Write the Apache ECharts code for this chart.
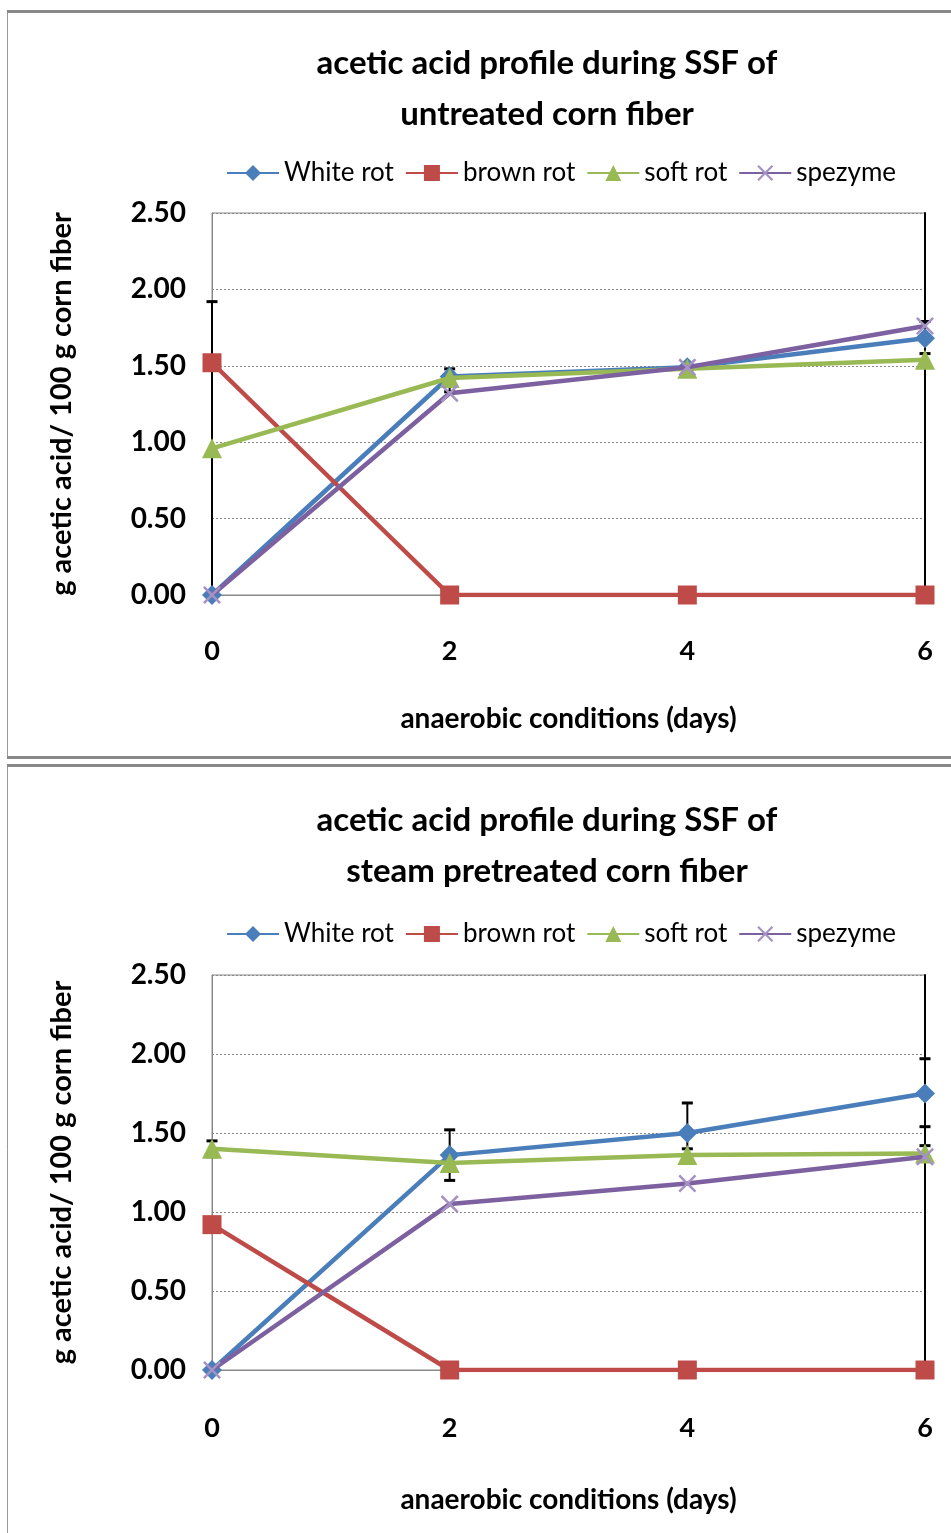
<!DOCTYPE html>
<html>
<head>
<meta charset="utf-8">
<script src="https://cdn.jsdelivr.net/npm/echarts@6/dist/echarts.min.js"></script>
<style>
  html, body { margin: 0; padding: 0; background: #fff; }
  #main { width: 951px; height: 1533px; }
</style>
</head>
<body>
<div id="main"></div>
<script>
// x values (days)
var days = [0, 2, 4, 6];
var seriesNames = ['White rot', 'brown rot', 'soft rot', 'spezyme'];

// untreated corn fiber
var topWhite = [0.00, 1.43, 1.49, 1.68];
var topBrown = [1.52, 0.00, 0.00, 0.00];
var topSoft = [0.96, 1.42, 1.48, 1.54];
var topSpez = [0.00, 1.32, 1.49, 1.76];
// error bars: [day, low, high]
var topErr = [[0, 0.00, 1.92], [2, 1.33, 1.48], [6, 1.58, 1.79]];

// steam pretreated corn fiber
var botWhite = [0.00, 1.36, 1.50, 1.75];
var botBrown = [0.92, 0.00, 0.00, 0.00];
var botSoft = [1.40, 1.31, 1.36, 1.37];
var botSpez = [0.00, 1.05, 1.18, 1.35];
var botErr = [[0, 1.35, 1.45], [2, 1.20, 1.52], [4, 1.32, 1.69], [4, 1.31, 1.40], [6, 1.54, 1.97], [6, 1.33, 1.42]];

var colors = ['#4a7ebb', '#be4b48', '#98b954', '#7d60a0'];
var crossPath = 'path://M0,1L1,0L5,4L9,0L10,1L6,5L10,9L9,10L5,6L1,10L0,9L4,5Z';
var symbols = ['diamond', 'rect', 'triangle', crossPath];
var symbolSizes = [20, 19, 20, 18];

var chartDom = document.getElementById('main');
var myChart = echarts.init(chartDom);

function pairs(vals) {
    return days.map(function (d, i) { return [d, vals[i]]; });
}

function makeLines(idx, sets) {
    return sets.map(function (vals, i) {
        return {
            name: seriesNames[i],
            type: 'line',
            xAxisIndex: idx,
            yAxisIndex: idx * 2,
            data: pairs(vals),
            symbol: symbols[i],
            symbolSize: symbolSizes[i],
            showAllSymbol: true,
            lineStyle: { width: 4.5, color: colors[i] },
            itemStyle: { color: i === 3 ? '#a593c4' : colors[i] },
            z: 3 + i
        };
    });
}

function makeErr(idx, err) {
    return {
        type: 'custom',
        xAxisIndex: idx,
        yAxisIndex: idx * 2,
        data: err,
        silent: true,
        z: 2,
        renderItem: function (params, api) {
            var top = api.coord([api.value(0), api.value(2)]);
            var bot = api.coord([api.value(0), api.value(1)]);
            var w = 11;
            var cap = { stroke: '#000', lineWidth: 3 };
            return {
                type: 'group',
                children: [
                    { type: 'line', shape: { x1: top[0], y1: top[1], x2: bot[0], y2: bot[1] }, style: { stroke: '#000', lineWidth: 2 } },
                    { type: 'line', shape: { x1: top[0] - w / 2, y1: top[1], x2: top[0] + w / 2, y2: top[1] }, style: cap },
                    { type: 'line', shape: { x1: bot[0] - w / 2, y1: bot[1], x2: bot[0] + w / 2, y2: bot[1] }, style: cap }
                ]
            };
        }
    };
}

var fontFam = 'Lato';

function xAxisCfg(idx) {
    return {
        type: 'value', gridIndex: idx, min: 0, max: 6, interval: 2,
        name: 'anaerobic conditions (days)', nameLocation: 'middle', nameGap: idx === 0 ? 110 : 116,
        nameTextStyle: { fontFamily: fontFam, fontSize: 28, color: '#000', fontWeight: 'bold' },
        axisLine: { lineStyle: { color: '#888', width: 1 } },
        axisTick: { show: false },
        splitLine: { show: false },
        axisLabel: { margin: idx === 0 ? 43 : 45, fontFamily: fontFam, fontSize: 27, color: '#000', fontWeight: 'bold' }
    };
}

function yAxisCfg(idx) {
    return [{
        type: 'value', gridIndex: idx, min: 0, max: 2.5, interval: 0.5,
        name: 'g acetic acid/ 100 g corn fiber', nameLocation: 'middle', nameGap: 136,
        nameTextStyle: { fontFamily: fontFam, fontSize: 29, color: '#000', fontWeight: 'bold' },
        axisLine: { show: true, lineStyle: { color: '#888', width: 1 } },
        axisTick: { show: false },
        splitLine: { show: true, lineStyle: { color: '#888', type: [2, 2], width: 1 } },
        axisLabel: {
            margin: 26, fontFamily: fontFam, fontSize: 28, color: '#000', fontWeight: 'bold',
            formatter: function (v) { return v.toFixed(2); }
        }
    }, {
        type: 'value', gridIndex: idx, min: 0, max: 2.5, interval: 0.5, position: 'right',
        axisLine: { show: true, lineStyle: { color: '#000', width: 2 } },
        axisTick: { show: false }, axisLabel: { show: false }, splitLine: { show: false }
    }];
}

function legendCfg(top) {
    return {
        data: seriesNames, top: top, left: 221, itemWidth: 52, itemHeight: 20, itemGap: 11,
        textStyle: { fontFamily: fontFam, fontSize: 26, color: '#000' }
    };
}

function titleCfg(text, top) {
    return {
        text: text, left: 542, top: top, textAlign: 'center',
        textStyle: { fontFamily: fontFam, fontSize: 33, fontWeight: 'bold', color: '#000', lineHeight: 51 }
    };
}

var option = {
    animation: false,
    backgroundColor: '#fff',
    color: colors,
    title: [
        titleCfg('acetic acid profile during SSF of\nuntreated corn fiber', 33),
        titleCfg('acetic acid profile during SSF of\nsteam pretreated corn fiber', 790)
    ],
    legend: [legendCfg(155), legendCfg(916)],
    grid: [
        { left: 212, top: 213, width: 713, height: 382, show: true, borderColor: '#888', borderWidth: 1 },
        { left: 212, top: 975, width: 713, height: 395, show: true, borderColor: '#888', borderWidth: 1 }
    ],
    xAxis: [xAxisCfg(0), xAxisCfg(1)],
    yAxis: yAxisCfg(0).concat(yAxisCfg(1)),
    graphic: [
        { type: 'rect', shape: { x: 7.5, y: 11.5, width: 950, height: 745 }, style: { fill: 'none', stroke: '#999', lineWidth: 1 } },
        { type: 'rect', shape: { x: 7, y: 10, width: 944, height: 3 }, style: { fill: '#888' } },
        { type: 'rect', shape: { x: 7, y: 756, width: 944, height: 3 }, style: { fill: '#888' } },
        { type: 'rect', shape: { x: 7.5, y: 765.5, width: 950, height: 780 }, style: { fill: 'none', stroke: '#999', lineWidth: 1 } },
        { type: 'rect', shape: { x: 7, y: 764, width: 944, height: 3 }, style: { fill: '#888' } }
    ],
    series: [makeErr(0, topErr), makeErr(1, botErr)]
        .concat(makeLines(0, [topWhite, topBrown, topSoft, topSpez]))
        .concat(makeLines(1, [botWhite, botBrown, botSoft, botSpez]))
};

option && myChart.setOption(option);
</script>
</body>
</html>
